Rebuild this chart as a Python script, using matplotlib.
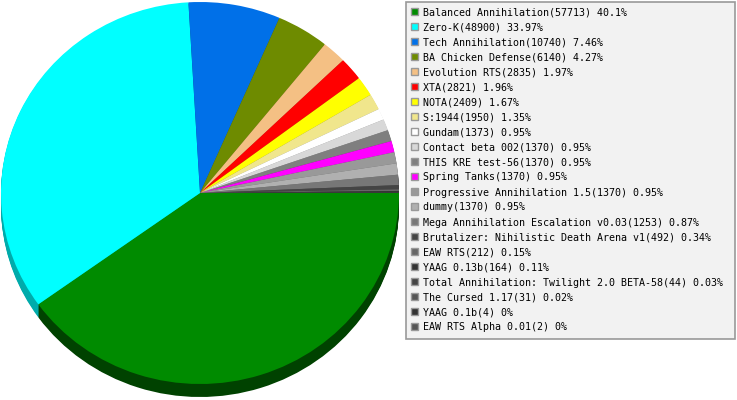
import matplotlib
matplotlib.use('Agg')
import matplotlib.pyplot as plt
from matplotlib.patches import Rectangle
from matplotlib.colors import to_rgb

# games and how many times each was played
games = ['Balanced Annihilation', 'Zero-K', 'Tech Annihilation', 'BA Chicken Defense',
         'Evolution RTS', 'XTA', 'NOTA', 'S:1944', 'Gundam', 'Contact beta 002',
         'THIS KRE test-56', 'Spring Tanks', 'Progressive Annihilation 1.5', 'dummy',
         'Mega Annihilation Escalation v0.03', 'Brutalizer: Nihilistic Death Arena v1',
         'EAW RTS', 'YAAG 0.13b', 'Total Annihilation: Twilight 2.0 BETA-58',
         'The Cursed 1.17', 'YAAG 0.1b', 'EAW RTS Alpha 0.01']
counts = [57713, 48900, 10740, 6140, 2835, 2821, 2409, 1950, 1373, 1370,
          1370, 1370, 1370, 1370, 1253, 492, 212, 164, 44, 31, 4, 2]
percents = ['40.1', '33.97', '7.46', '4.27', '1.97', '1.96', '1.67', '1.35', '0.95', '0.95',
            '0.95', '0.95', '0.95', '0.95', '0.87', '0.34', '0.15', '0.11', '0.03', '0.02',
            '0', '0']
colors = ['#008b00', '#00ffff', '#0070e8', '#6e8b00', '#f4c084', '#ff0000', '#ffff00',
          '#f0e68c', '#ffffff', '#d8d8d8', '#7f7f7f', '#ff00ff', '#999999', '#b0b0b0',
          '#777777', '#444444', '#666666', '#333333', '#444444', '#555555', '#333333',
          '#555555']

W, H = 737, 400
fig = plt.figure(figsize=(W / 100, H / 100), dpi=100)
fig.patch.set_facecolor('white')

# pie geometry in pixels (elliptical, with a 3d edge)
cx, cy, rx, ry, depth = 200, 193, 199, 191, 13
left, right, top, bottom = cx - rx, cx + rx, cy - ry, cy + ry + depth + 3
pax = fig.add_axes([left / W, 1 - bottom / H, (right - left) / W, (bottom - top) / H])

def darken(c, f):
    r, g, b = to_rgb(c)
    return (r * f, g * f, b * f)

side = [darken(c, 0.6) for c in colors]
side[0] = (0, 0.26, 0)
side[1] = (0, 0.67, 0.67)

for d in range(depth, 0, -1):
    pax.pie(counts, colors=side, radius=1, center=(0, -d / ry), startangle=0,
            counterclock=False, wedgeprops=dict(linewidth=0))
pax.pie(counts, colors=colors, radius=1, center=(0, 0), startangle=0,
        counterclock=False, wedgeprops=dict(linewidth=0))
pax.set_aspect('auto')
pax.set_xlim(-1, 1)
pax.set_ylim(-(bottom - cy) / ry, 1)
pax.axis('off')

# legend box drawn in pixel coords
ax = fig.add_axes([0, 0, 1, 1], zorder=3)
ax.set_xlim(0, W)
ax.set_ylim(H, 0)
ax.axis('off')
ax.add_patch(Rectangle((406, 1.5), 329, 337, facecolor='#f2f2f2', edgecolor='#999999', lw=1.2))
for i, (g, n, p, c) in enumerate(zip(games, counts, percents, colors)):
    y = 12 + 15 * i
    ax.add_patch(Rectangle((411.5, y - 4), 7, 7, facecolor=c, edgecolor='#999999', lw=1))
    ax.text(423, y + 0.5, f'{g}({n}) {p}%', fontsize=7.2, family='DejaVu Sans Mono',
            va='center', ha='left', color='black')

fig.savefig('out.png', dpi=100)
